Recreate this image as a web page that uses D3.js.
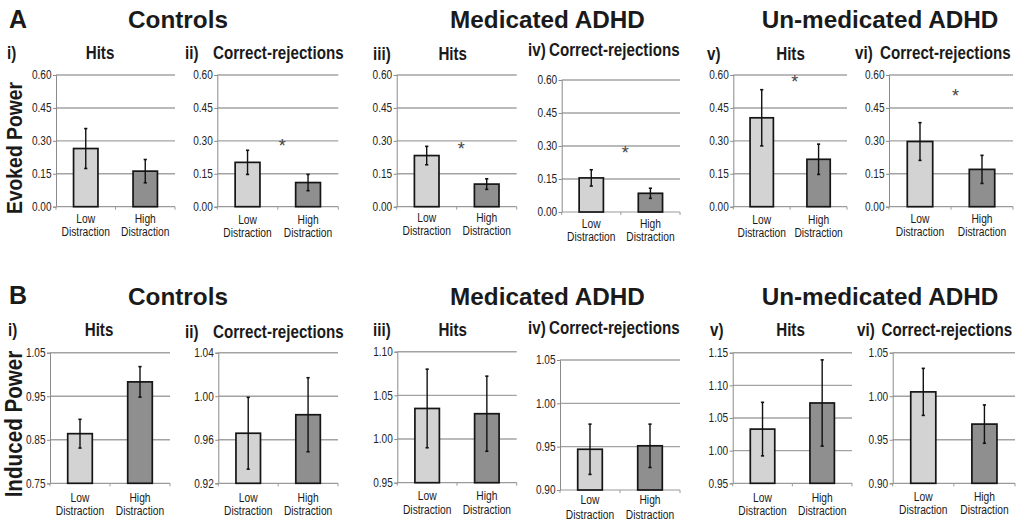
<!DOCTYPE html>
<html><head><meta charset="utf-8">
<script src="https://cdn.jsdelivr.net/npm/d3@7"></script>
<style>
html,body{margin:0;padding:0;background:#fff;}
svg{display:block;}
</style></head>
<body>
<svg id="chart" width="1027" height="520"></svg>
<script>
// ---------------- DATA ----------------
const rowLetters = ["A", "B"];
const rowMeasures = ["Evoked Power", "Induced Power"];
const groups = ["Controls", "Medicated ADHD", "Un-medicated ADHD"];
const numerals = ["i)", "ii)", "iii)", "iv)", "v)", "vi)"];
const conditions = ["Hits", "Correct-rejections", "Hits", "Correct-rejections", "Hits", "Correct-rejections"];
const categories = ["Low Distraction", "High Distraction"];

// Evoked power (row A): means and error half-widths, [low, high]
const evokedMeans = [[0.265, 0.162], [0.202, 0.110], [0.233, 0.103], [0.155, 0.085], [0.405, 0.216], [0.297, 0.170]];
const evokedErrors = [[0.091, 0.053], [0.055, 0.037], [0.042, 0.024], [0.037, 0.023], [0.128, 0.069], [0.086, 0.064]];
const evokedTicks = [[0, 0.15, 0.30, 0.45, 0.60], [0, 0.15, 0.30, 0.45, 0.60], [0, 0.15, 0.30, 0.45, 0.60],
                     [0, 0.15, 0.30, 0.45, 0.60], [0, 0.15, 0.30, 0.45, 0.60], [0, 0.15, 0.30, 0.45, 0.60]];
const evokedStars = [null, 0.285, 0.270, 0.274, 0.577, 0.509];

// Induced power (row B)
const inducedMeans = [[0.864, 0.983], [0.966, 0.983], [1.035, 1.029], [0.947, 0.951], [1.033, 1.073], [1.005, 0.968]];
const inducedErrors = [[0.033, 0.035], [0.033, 0.034], [0.045, 0.043], [0.029, 0.025], [0.041, 0.066], [0.027, 0.022]];
const inducedTicks = [[0.75, 0.85, 0.95, 1.05], [0.92, 0.96, 1.00, 1.04], [0.95, 1.00, 1.05, 1.10],
                      [0.90, 0.95, 1.00, 1.05], [0.95, 1.00, 1.05, 1.10, 1.15], [0.90, 0.95, 1.00, 1.05]];
const inducedStars = [null, null, null, null, null, null];

// ---------------- LAYOUT ----------------
const rowLayouts = [
  { letter: {x: 9, y: 28}, measure: {x: 21.5, y: 148, size: 22.5}, groupY: 28, groupX: [178, 547.5, 880],
    panels: [
      {x0: 56, x1: 175, top: 75, bottom: 206.7, numX: 7, titleX: 100, anchor: "middle", titleY: 59, lowDy: 16, distDy: 29.5},
      {x0: 217.3, x1: 338.3, top: 75, bottom: 206.7, numX: 185, titleX: 213, anchor: "start", titleY: 59, lowDy: 17, distDy: 30},
      {x0: 396.7, x1: 516.7, top: 75, bottom: 206.7, numX: 373, titleX: 452.7, anchor: "middle", titleY: 59.5, lowDy: 15, distDy: 28.5},
      {x0: 561.7, x1: 680, top: 80, bottom: 212, numX: 528, titleX: 549, anchor: "start", titleY: 56, lowDy: 15.5, distDy: 29},
      {x0: 733.3, x1: 847, top: 75, bottom: 206.7, numX: 707, titleX: 790.5, anchor: "middle", titleY: 59.5, lowDy: 17.5, distDy: 30.5},
      {x0: 889, x1: 1013, top: 75, bottom: 206.7, numX: 855, titleX: 880, anchor: "start", titleY: 59, lowDy: 16, distDy: 29}
    ]},
  { letter: {x: 9, y: 304}, measure: {x: 21.5, y: 424, size: 24}, groupY: 305, groupX: [178, 547.5, 880],
    panels: [
      {x0: 50, x1: 170, top: 352.7, bottom: 483.3, numX: 8, titleX: 99, anchor: "middle", titleY: 336, lowDy: 18.5, distDy: 31.5},
      {x0: 218.3, x1: 338, top: 352.7, bottom: 483.3, numX: 185, titleX: 213, anchor: "start", titleY: 338, lowDy: 18.5, distDy: 31.5},
      {x0: 397.3, x1: 516.7, top: 351.7, bottom: 482.7, numX: 373, titleX: 452.7, anchor: "middle", titleY: 336, lowDy: 17, distDy: 31},
      {x0: 560, x1: 680, top: 360, bottom: 490, numX: 528, titleX: 549, anchor: "start", titleY: 334, lowDy: 14, distDy: 28.5},
      {x0: 732.7, x1: 852, top: 352.7, bottom: 483.3, numX: 710, titleX: 790.5, anchor: "middle", titleY: 336, lowDy: 18.5, distDy: 31.5},
      {x0: 892.7, x1: 1015, top: 352.7, bottom: 483.3, numX: 857, titleX: 881.5, anchor: "start", titleY: 336, lowDy: 18, distDy: 31}
    ]}
];

const FONT = "'Liberation Sans',Arial,sans-serif";
const NARROW_SCALE = 0.82;
const barFills = ["#d3d3d3", "#8f8f8f"];
const gridColor = "#a3a3a3";

const svg = d3.select("#chart");

// narrow text helper: Liberation Sans compressed horizontally (Arial Narrow look)
function narrowText(parent, x, y, str, o) {
  const rot = o.rotate ? ` rotate(${o.rotate})` : "";
  return parent.append("text")
    .attr("transform", `translate(${x},${y})${rot} scale(${o.scale || NARROW_SCALE},1)`)
    .attr("text-anchor", o.anchor || "start")
    .attr("font-family", FONT)
    .attr("font-weight", o.weight || "normal")
    .attr("font-size", o.size)
    .attr("fill", o.fill || "#1a1a1a")
    .text(str);
}

const rowData = [
  {means: evokedMeans, errors: evokedErrors, ticks: evokedTicks, stars: evokedStars},
  {means: inducedMeans, errors: inducedErrors, ticks: inducedTicks, stars: inducedStars}
];

rowData.forEach((rd, r) => {
  const L = rowLayouts[r];
  svg.append("text").attr("x", L.letter.x).attr("y", L.letter.y)
    .attr("font-family", FONT).attr("font-weight", "bold").attr("font-size", 25).attr("fill", "#1a1a1a")
    .text(rowLetters[r]);
  narrowText(svg, L.measure.x, L.measure.y, rowMeasures[r],
    {rotate: -90, anchor: "middle", weight: "bold", size: L.measure.size, scale: 0.86});
  groups.forEach((gname, gi) => {
    svg.append("text").attr("x", L.groupX[gi]).attr("y", L.groupY).attr("text-anchor", "middle")
      .attr("font-family", FONT).attr("font-weight", "bold").attr("font-size", 24.3).attr("fill", "#1a1a1a")
      .text(gname);
  });

  L.panels.forEach((P, p) => {
    const ticks = rd.ticks[p];
    const y = d3.scaleLinear().domain([ticks[0], ticks[ticks.length - 1]]).range([P.bottom, P.top]);
    const x = d3.scaleBand().domain(categories).range([P.x0, P.x1]).padding(0);
    const bw = x.bandwidth() * 0.41;
    const g = svg.append("g");

    narrowText(svg, P.numX, P.titleY, numerals[p], {weight: "bold", size: 18.5});
    narrowText(svg, P.titleX, P.titleY, conditions[p], {weight: "bold", size: 18.5, anchor: P.anchor});

    g.selectAll("line.grid").data(ticks.slice(1)).join("line").attr("class", "grid")
      .attr("x1", P.x0).attr("x2", P.x1)
      .attr("y1", d => y(d)).attr("y2", d => y(d))
      .attr("stroke", gridColor).attr("stroke-width", 1.4);

    const yAxis = d3.axisLeft(y).tickValues(ticks).tickSize(3).tickPadding(2)
      .tickFormat(d3.format(".2f"));
    const ya = g.append("g").attr("transform", `translate(${P.x0},0)`).call(yAxis);
    ya.select(".domain").attr("stroke", "#8a8a8a").attr("stroke-width", 1);
    ya.selectAll(".tick line").attr("stroke", "#8a8a8a");
    ya.selectAll(".tick text")
      .attr("x", -4.5 / NARROW_SCALE)
      .attr("transform", `scale(${NARROW_SCALE},1)`)
      .attr("font-family", FONT).attr("font-size", 12.3).attr("fill", "#222");

    const bounds = [P.x0, P.x0 + x.bandwidth(), P.x1];
    g.append("line").attr("x1", P.x0).attr("x2", P.x1).attr("y1", P.bottom).attr("y2", P.bottom)
      .attr("stroke", "#9a9a9a").attr("stroke-width", 1.2);
    g.selectAll("line.xt").data(bounds).join("line").attr("class", "xt")
      .attr("x1", d => d).attr("x2", d => d).attr("y1", P.bottom).attr("y2", P.bottom + 3)
      .attr("stroke", "#9a9a9a").attr("stroke-width", 1);

    const vals = categories.map((c, i) => ({c, i, m: rd.means[p][i], e: rd.errors[p][i]}));
    g.selectAll("rect.bar").data(vals).join("rect").attr("class", "bar")
      .attr("x", d => x(d.c) + (x.bandwidth() - bw) / 2)
      .attr("width", bw)
      .attr("y", d => y(d.m))
      .attr("height", d => P.bottom - y(d.m))
      .attr("fill", d => barFills[d.i])
      .attr("stroke", "#151515").attr("stroke-width", 1.7);

    const cx = d => x(d.c) + x.bandwidth() / 2;
    g.selectAll("line.err").data(vals).join("line").attr("class", "err")
      .attr("x1", cx).attr("x2", cx)
      .attr("y1", d => y(d.m + d.e)).attr("y2", d => y(d.m - d.e))
      .attr("stroke", "#111").attr("stroke-width", 1.4);
    ["top", "bot"].forEach(k => {
      g.selectAll("line.cap" + k).data(vals).join("line").attr("class", "cap" + k)
        .attr("x1", d => cx(d) - 1.6).attr("x2", d => cx(d) + 1.6)
        .attr("y1", d => y(k === "top" ? d.m + d.e : d.m - d.e))
        .attr("y2", d => y(k === "top" ? d.m + d.e : d.m - d.e))
        .attr("stroke", "#111").attr("stroke-width", 1.6);
    });

    vals.forEach(d => {
      const words = d.c.split(" ");
      narrowText(g, cx(d), P.bottom + P.lowDy, words[0], {anchor: "middle", size: 12.5, fill: "#1a1a1a"});
      narrowText(g, cx(d), P.bottom + P.distDy, words[1], {anchor: "middle", size: 12.5, fill: "#1a1a1a"});
    });

    const s = rd.stars[p];
    if (s !== null) {
      g.append("text").attr("x", P.x0 + x.bandwidth() + 4.5).attr("y", y(s) + 7.5)
        .attr("text-anchor", "middle").attr("font-family", FONT).attr("font-size", 18).attr("fill", "#444")
        .text("*");
    }
  });
});
</script>
</body></html>
